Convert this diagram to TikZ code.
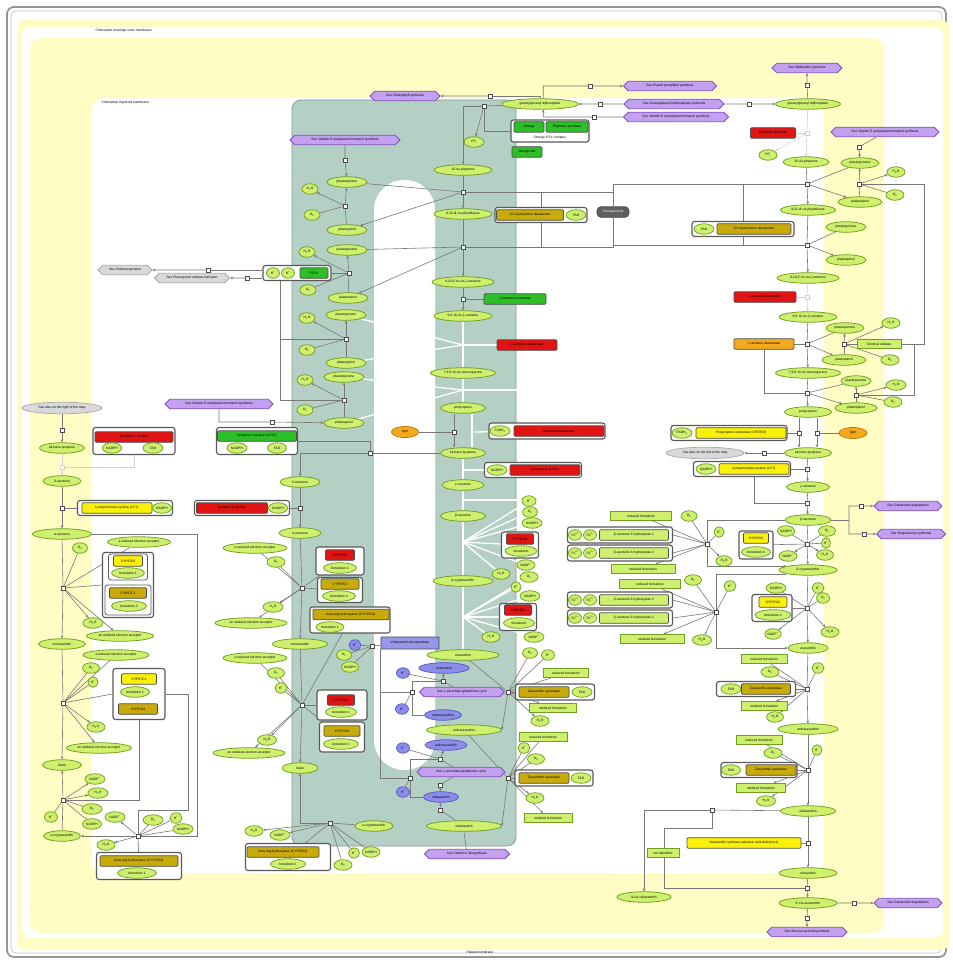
\documentclass[tikz,border=0pt]{standalone}
\usepackage{fontspec}
\setmainfont{Liberation Sans}
\usetikzlibrary{arrows.meta,shapes.geometric,shapes.symbols,positioning,calc}

\definecolor{framegray}{RGB}{150,150,150}
\definecolor{bgyellow}{RGB}{255,252,196}
\definecolor{thylakoid}{RGB}{180,207,196}
\definecolor{chemfill}{RGB}{206,240,110}
\definecolor{chemline}{RGB}{110,160,30}
\definecolor{seefill}{RGB}{196,160,240}
\definecolor{seeline}{RGB}{130,80,190}
\definecolor{bluefill}{RGB}{140,140,235}
\definecolor{blueline}{RGB}{90,90,190}
\definecolor{vdefill}{RGB}{150,150,235}
\definecolor{enzred}{RGB}{225,20,20}
\definecolor{enzgreen}{RGB}{45,190,40}
\definecolor{enzyellow}{RGB}{250,240,10}
\definecolor{enzolive}{RGB}{200,170,10}
\definecolor{enzorange}{RGB}{245,170,30}
\definecolor{orangeline}{RGB}{190,120,10}
\definecolor{darkbox}{RGB}{95,95,95}
\definecolor{linegray}{RGB}{120,120,120}

\pgfdeclarelayer{back}
\pgfdeclarelayer{lines}
\pgfsetlayers{back,lines,main}

\newcommand{\mapfont}{\fontsize{3.3}{3.8}\selectfont}
\newcommand{\wat}{H\textsubscript{2}O}
\newcommand{\oxy}{O\textsubscript{2}}
\newcommand{\hpl}{H\textsuperscript{+}}
\newcommand{\nadpp}{NADP\textsuperscript{+}}
\newcommand{\fetwo}{Fe\textsuperscript{2+}}

\begin{document}
\begin{tikzpicture}[x=1pt, y=-1pt,
    >={Stealth[length=3pt,width=2.6pt]},
    every node/.style={font=\mapfont},
    chem/.style={ellipse, draw=chemline, fill=chemfill, line width=0.75pt, inner sep=0.3pt, minimum height=10.5pt, minimum width=#1},
    chem/.default=18,
    lumen/.style={ellipse, draw=blueline, fill=bluefill, line width=0.75pt, inner sep=0.3pt, minimum height=10.5pt, minimum width=#1},
    lumen/.default=14,
    lightsrc/.style={ellipse, draw=orangeline, fill=enzorange, line width=0.75pt, inner sep=0.3pt, minimum height=11pt, minimum width=#1},
    lightsrc/.default=26,
    offmap/.style={ellipse, draw=gray!65, fill=gray!30, line width=0.75pt, inner sep=0.3pt, minimum height=11.5pt, minimum width=#1},
    enz/.style={rectangle, rounded corners=1.2pt, draw=black!70, line width=0.75pt, inner sep=0.5pt, minimum height=10.5pt, minimum width=#1},
    gene/.style={rectangle, draw=chemline, fill=chemfill, line width=0.75pt, inner sep=0.5pt, minimum height=9pt, minimum width=#1},
    cplx/.style={rectangle, rounded corners=2.5pt, draw=gray!70!black, line width=1.1pt, fill=white, inner sep=0pt},
    see/.style={signal, signal to=east and west, draw=seeline, fill=seefill, line width=0.75pt, inner sep=0.8pt, minimum height=9.5pt, minimum width=#1},
    proc/.style={rectangle, draw=gray!60!black, fill=white, line width=0.5pt, minimum size=4pt, inner sep=0pt},
    link/.style={draw=linegray, line width=0.6pt},
    wlink/.style={draw=white, line width=1.3pt},
    faint/.style={draw=gray!35, line width=0.6pt},
]
\useasboundingbox (0,0) rectangle (952,960);

% Compartments
\begin{pgfonlayer}{back}
  \fill[white] (0,0) rectangle (952,960);
  \draw[framegray, line width=1.8pt, rounded corners=7] (7,7) rectangle (946,957);
  \draw[framegray!60, line width=0.6pt, rounded corners=5] (11,11) rectangle (942,953);
  \fill[bgyellow, rounded corners=8] (17,20) rectangle (949,950);
  \fill[white, rounded corners=8] (22,27) rectangle (943,938);
  \fill[bgyellow, rounded corners=11] (30,38) rectangle (884,933);
  \fill[white, rounded corners=11] (92,98) rectangle (824,873);
  \draw[thylakoid!75!black, line width=0.8pt, fill=thylakoid, rounded corners=9] (292,100) rectangle (516,846);
  \fill[white, rounded corners=30] (374,180) rectangle (435,770);
\end{pgfonlayer}
\node[anchor=west] (envlab) at (92,31) {Chloroplast envelope outer membrane};
\node[anchor=west] (thylab) at (98,103) {Chloroplast thylakoid membrane};
\node (pmlab) at (480,952) {Plastid membrane};

% GGPP and phytoene synthase (centre)
\node[see=70] (chlsyn) at (405,96) {See Chlorophyll synthesis};
\node[proc] (r1) at (490,96) {};
\node[chem=77] (ggppA) at (540,104) {geranylgeranyl diphosphate};
\node[proc] (r2) at (484,106) {};
\node[chem=20] (ppiA) at (474,142) {PP\textsubscript{i}};
\node[cplx, minimum width=78, minimum height=22] (psyC) at (550,131) {};
\node[enz=30, fill=enzgreen] (orng) at (529,127) {Orange};
\node[enz=42, fill=enzgreen] (psyA) at (567,127) {Phytoene synthase};
\node (psyT) at (550,137.5) {Orange-PSY complex};
\node[enz=30, fill=enzgreen] (orlike) at (527,152) {Orange like};
\node[proc] (r3) at (600,104) {};
\node[proc] (r4) at (590,86) {};
\node[proc] (r5) at (594,117) {};
\node[see=93] (prenyl) at (670,86) {See Plastid prenyllipid synthesis};
\node[see=100] (ggsyn) at (674,104) {See Geranylgeranyl diphosphate synthesis};
\node[see=105] (vite2) at (676,117) {See Vitamin E and plastochromanol synthesis};

% Desaturation chain in the thylakoid
\node[chem=58] (phytA) at (463,170) {15-cis-phytoene};
\node[proc] (pC1) at (463,192) {};
\node[chem=58] (zA1) at (463,214) {9,15-di-cis-phytofluene};
\node[cplx, minimum width=92, minimum height=15] (pdsC) at (541,215) {};
\node[enz=67, fill=enzolive] (pdsA) at (530,215) {15-cis-phytoene desaturase};
\node[chem=20] (fadA) at (576,215) {FAD};
\node[enz=32, fill=darkbox, text=white, rounded corners=4pt] (pqbox) at (613,212) {Plastoquinone};
\node[proc] (pC2) at (463,247) {};
\node[chem=62] (zA2) at (463,282) {9,15,9'-tri-cis-ζ-carotene};
\node[proc] (pC3) at (463,299) {};
\node[enz=62, fill=enzgreen] (ziso) at (515,299) {ζ-carotene isomerase};
\node[chem=58] (zA3) at (463,316) {9,9'-di-cis-ζ-carotene};
\coordinate (pC4) at (463,345);
\node[enz=60, fill=enzred] (zdsA) at (527,345) {ζ-carotene desaturase};
\node[chem=65] (zA4) at (463,373) {7,9,9'-tri-cis-neurosporene};
\coordinate (pC5) at (463,390);
\node[chem=45] (prolyA) at (463,408) {prolycopene};
\node[lightsrc=27] (lightA) at (405,432) {light};
\node[proc] (pC6) at (454,432) {};
\coordinate (pC7) at (472,432);
\node[cplx, minimum width=116, minimum height=16] (crtC) at (547,431) {};
\node[chem=20] (fadhA) at (500,431) {FADH\textsubscript{2}};
\node[enz=90, fill=enzred] (crtA) at (559,431) {carotenoid isomerase};
\node[chem=45] (lycA) at (463,453) {all-trans-lycopene};
\node[cplx, minimum width=97, minimum height=15] (lcybC) at (533,470) {};
\node[chem=20] (nadphA) at (497,470) {NADPH};
\node[enz=70, fill=enzred] (lcybA) at (545,470) {lycopene β-cyclase};
\coordinate (pC8) at (463,470);
\node[chem=42] (gamA) at (463,485) {γ-carotene};
\coordinate (pC9) at (463,500);
\node[chem=45] (betA) at (463,516) {β-carotene};
\coordinate (pC10) at (463,542);
\node[chem=14] (hA1) at (529,501) {\hpl};
\node[chem=15] (oA1) at (530,512) {\oxy};
\node[chem=20] (nA1) at (532,523) {NADPH};
\node[cplx, minimum width=37, minimum height=26] (cypC1) at (520,545) {};
\node[enz=27, fill=enzred] (cypA1) at (520,539) {CYP97A3};
\node[chem=32] (fdA1) at (521,551) {ferredoxin};
\node[chem=18] (npA1) at (526,565) {\nadpp};
\node[chem=18] (wA1) at (501,574) {\wat};
\node[chem=60] (bcrA) at (463,581) {β-cryptoxanthin};
\node[chem=18] (oA2) at (529,577) {\oxy};
\node[chem=10] (hA2) at (516,587) {\hpl};
\node[chem=20] (nA2) at (530,596) {NADPH};
\node[cplx, minimum width=37, minimum height=27] (cypC2) at (518,617) {};
\node[enz=27, fill=enzred] (cypA2) at (518,610) {CYP97C1};
\node[chem=31] (fdA2) at (519,623) {ferredoxin};
\coordinate (pC11) at (463,617);
\node[chem=18] (wA2) at (491,637) {\wat};
\node[chem=20] (npA2) at (534,637) {\nadpp};
\node[chem=72] (zeaA) at (463,655) {zeaxanthin};

% Xanthophyll cycle
\node[enz=58, fill=vdefill, rounded corners=0.5pt, minimum height=12pt] (vdeA) at (410,643) {Violaxanthin de-epoxidase};
\node[lumen=12] (hV) at (355,645) {\hpl};
\node[chem=15] (oV) at (344,655) {\oxy};
\node[chem=17] (nV) at (350,667) {NADPH};
\node[proc] (pV) at (372,646) {};
\node[lumen=50] (zeaL) at (444,668) {zeaxanthin};
\node[lumen=13] (hL1) at (403,673) {\hpl};
\node[proc] (pL1) at (443,681) {};
\node[see=85] (ascA) at (462,692) {See L-ascorbate-glutathione cycle};
\node[proc] (pL0) at (412,692) {};
\node[lumen=13] (hL2) at (402,709) {\hpl};
\node[lumen=37] (antL) at (443,715) {antheraxanthin};
\node[chem=75] (antA) at (464,730) {antheraxanthin};
\node[lumen=42] (antL2) at (446,745) {antheraxanthin};
\node[lumen=13] (hL3) at (403,748) {\hpl};
\node[proc] (pL2) at (440,759) {};
\node[see=88] (ascB) at (461,772) {See L-ascorbate-glutathione cycle};
\node[proc] (pL3) at (410,778) {};
\node[proc] (pL4) at (440,785) {};
\node[lumen=13] (hL4) at (403,792) {\hpl};
\node[lumen=35] (violL) at (441,797) {violaxanthin};
\node[proc] (pL5) at (440,810) {};
\node[chem=75] (violA) at (464,826) {violaxanthin};
\node[see=85] (vitc) at (467,854) {See Vitamin C biosynthesis};
\node[proc] (pZ1) at (508,692) {};
\node[chem=15] (oZ1) at (530,653) {\oxy};
\node[chem=13] (hZ1) at (548,655) {\hpl};
\node[gene=45] (rfdZ1) at (566,673) {reduced ferredoxin};
\node[cplx, minimum width=79, minimum height=16] (zepC1) at (555,692) {};
\node[enz=50, fill=enzolive] (zepA1) at (544,692) {Zeaxanthin epoxidase};
\node[chem=20] (fadZ1) at (582,692) {FAD};
\node[gene=47] (ofdZ1) at (553,708) {oxidized ferredoxin};
\node[chem=18] (wZ1) at (540,721) {\wat};
\node[proc] (pZ2) at (508,778) {};
\node[gene=48] (rfdZ2) at (543,737) {reduced ferredoxin};
\node[chem=12] (hZ2) at (524,748) {\hpl};
\node[chem=17] (oZ2) at (536,759) {\oxy};
\node[cplx, minimum width=78, minimum height=16] (zepC2) at (554,778) {};
\node[enz=50, fill=enzolive] (zepA2) at (544,778) {Zeaxanthin epoxidase};
\node[chem=20] (fadZ2) at (581,778) {FAD};
\node[chem=18] (wZ2) at (535,798) {\wat};
\node[gene=48] (ofdZ2) at (548,818) {oxidized ferredoxin};

% Plastoquinone stack (thylakoid, left)
\node[see=110] (vite1) at (345,140) {See Vitamin E and plastochromanol synthesis};
\node[proc] (qa) at (345,160) {};
\node[chem=40] (pqa) at (347,182) {plastoquinone};
\node[chem=16] (wA) at (310,189) {\wat};
\node[proc] (qb) at (345,206) {};
\node[chem=16] (oA) at (312,215) {\oxy};
\node[chem=40] (pqb) at (347,230) {plastoquinol};
\node[chem=40] (pqc) at (347,250) {plastoquinone};
\node[chem=16] (wB) at (307,252) {\wat};
\node[proc] (qc) at (349,273) {};
\node[chem=16] (oB) at (308,290) {\oxy};
\node[chem=40] (pqd) at (348,298) {plastoquinol};
\node[chem=40] (pqe) at (346,315) {plastoquinone};
\node[chem=16] (wC) at (307,318) {\wat};
\node[proc] (qd) at (346,339) {};
\node[chem=16] (oC) at (307,350) {\oxy};
\node[chem=40] (pqf) at (346,363) {plastoquinol};
\node[chem=40] (pqg) at (344,377) {plastoquinone};
\node[chem=16] (wD) at (305,380) {\wat};
\node[proc] (qe) at (344,400) {};
\node[chem=16] (oD) at (305,410) {\oxy};
\node[chem=40] (pqh) at (344,423) {plastoquinol};
\node[cplx, minimum width=68, minimum height=15] (ptoxC) at (297,273) {};
\node[chem=13] (hp1) at (273,273) {\hpl};
\node[chem=13] (hp2) at (288,273) {\hpl};
\node[enz=28, fill=enzgreen] (ptox) at (314,273) {PTOX};
\coordinate (pk1) at (280,281);
\node[see=54, draw=gray!65, fill=gray!30] (chlr) at (125,270) {See Chlororespiration};
\node[see=75, draw=gray!65, fill=gray!30] (ptoxt) at (192,278) {See Plastoquinol oxidase transport};
\node[proc] (q6) at (208,270) {};
\node[proc] (q7) at (247,278) {};
\node[see=108] (vitk) at (219,404) {See Vitamin E and plastochromanol synthesis};
\node[proc] (qf) at (272,422) {};

% Alpha branch in the thylakoid
\node[cplx, minimum width=81, minimum height=27] (lcyeC) at (257,441) {};
\node[enz=79, fill=enzgreen] (lcyeA) at (257,436) {lycopene ε-cyclase (LCYE)};
\node[chem=20] (nadphE) at (237,448) {NADPH};
\node[chem=19] (fadE) at (277,448) {FAD};
\node[proc] (pT1) at (370,453) {};
\node[chem=40] (delT) at (300,482) {δ-carotene};
\node[proc] (pT2) at (300,508) {};
\node[cplx, minimum width=95, minimum height=15] (lcybC2) at (242,508) {};
\node[enz=71, fill=enzred] (lcybB) at (232,508) {lycopene β-cyclase};
\node[chem=19] (nadphB) at (278,508) {NADPH};
\node[chem=42] (alpT) at (300,533) {α-carotene};
\node[proc] (pT3) at (302,588) {};
\node[chem=64] (redT1) at (255,548) {a reduced electron acceptor};
\node[chem=18] (oT1) at (276,562) {\oxy};
\node[chem=20] (wT1) at (273,607) {\wat};
\node[chem=72] (oxT1) at (251,623) {an oxidized electron acceptor};
\node[cplx, minimum width=48, minimum height=28] (cypTC1) at (340,561) {};
\node[enz=29, fill=enzred] (cypT1) at (340,555) {CYP97A3};
\node[chem=33] (fdT1) at (340,568) {ferredoxin 1};
\node[cplx, minimum width=45, minimum height=25] (cypTC2) at (340,590) {};
\node[enz=38, fill=enzolive] (cypT2) at (340,584) {CYP97C1};
\node[chem=33] (fdT2) at (339,596) {ferredoxin 4};
\node[cplx, minimum width=80, minimum height=26] (bchC) at (350,620) {};
\node[enz=76, fill=enzolive] (bchT) at (351,614.5) {beta-ring hydroxylase (CYP97A3)};
\node[chem=28] (fdT3) at (330,627) {ferredoxin 1};
\node[chem=55] (zeiT) at (300,644) {zeinoxanthin};
\node[proc] (pT4) at (302,705) {};
\node[chem=64] (redT2) at (255,658) {a reduced electron acceptor};
\node[chem=17] (oT2) at (276,673) {\oxy};
\node[chem=12] (hT2) at (281,688) {\hpl};
\node[cplx, minimum width=50, minimum height=30] (cypTC3) at (342,705) {};
\node[enz=27, fill=enzred] (cypT3) at (341,700) {CYP97C1};
\node[chem=31] (fdT5) at (341,712) {ferredoxin 1};
\node[cplx, minimum width=45, minimum height=30] (cypTC4) at (342,737) {};
\node[enz=36, fill=enzolive] (cypT4) at (342,731) {CYP97A3};
\node[chem=35] (fdT6) at (341,744) {ferredoxin 1};
\node[chem=19] (wT2) at (267,740) {\wat};
\node[chem=72] (oxT2) at (249,753) {an oxidized electron acceptor};
\node[chem=36] (lutT) at (300,768) {lutein};
\node[proc] (pT5) at (330,823) {};
\node[chem=38] (acrT) at (374,826) {α-cryptoxanthin};
\node[chem=18] (wT3) at (254,831) {\wat};
\node[chem=20] (npT3) at (280,835) {\nadpp};
\node[chem=11] (hT3) at (354,853) {\hpl};
\node[chem=18] (nT3) at (371,852) {NADPH};
\node[chem=18] (oT3) at (343,865) {\oxy};
\node[cplx, minimum width=85, minimum height=27] (bchC2) at (288,857) {};
\node[enz=72, fill=enzolive] (bchT2) at (283,852) {beta-ring hydroxylase (CYP97A3)};
\node[chem=35] (fdT4) at (288,864) {ferredoxin 1};

% Alpha branch in the envelope (left column)
\node[offmap=80] (seeleft) at (62,408) {See also on the right of the map};
\node[proc] (pE1) at (62,430) {};
\node[chem=45] (lycE) at (62,448) {all-trans-lycopene};
\node[cplx, minimum width=82, minimum height=27] (lcyeC2) at (134,441) {};
\node[enz=78, fill=enzred] (lcyeB) at (134,437) {lycopene ε-cyclase};
\node[chem=19] (nadphE2) at (112,448) {NADPH};
\node[chem=20] (fadE2) at (153,448) {FAD};
\node[proc, draw=gray!35] (pE2) at (62,467) {};
\node[chem=38] (delE) at (62,481) {δ-carotene};
\node[proc] (pE3) at (62,508) {};
\node[cplx, minimum width=95, minimum height=15] (lcybEC) at (125,508) {};
\node[enz=70, fill=enzyellow] (lcybE) at (117,508) {Lycopene beta-cyclase (LCY)};
\node[chem=19] (nadphE3) at (162,508) {NADPH};
\node[chem=59] (alpE) at (62,534) {α-carotene};
\coordinate (ak2) at (197,836);
\node[proc] (pE4) at (63,588) {};
\node[chem=15] (oE1) at (80,548) {\oxy};
\node[chem=63] (redE1) at (139,542) {a reduced electron acceptor};
\node[cplx, minimum width=51, minimum height=65] (cypEC) at (128,585) {};
\node[cplx, minimum width=39, minimum height=26, line width=0.8pt] (cypEC1) at (128,567) {};
\node[enz=29, fill=enzyellow] (cypE1) at (128,561) {CYP97A3};
\node[chem=33] (fdE1) at (128,573) {ferredoxin 1};
\node[cplx, minimum width=46, minimum height=30, line width=0.8pt] (cypEC2) at (128,600) {};
\node[enz=37, fill=enzolive] (cypE2) at (128,593) {CYP97C1};
\node[chem=35] (fdE2) at (129,606) {ferredoxin 4};
\node[chem=20] (wE1) at (93,623) {\wat};
\node[chem=67] (oxE1) at (120,636) {an oxidized electron acceptor};
\node[chem=47] (zeiE) at (62,644) {zeinoxanthin};
\node[chem=66] (redE2) at (116,655) {a reduced electron acceptor};
\node[chem=17] (oE2) at (91,668) {\oxy};
\node[chem=10] (hE2) at (93,682) {\hpl};
\node[proc] (pE5) at (63,703) {};
\node[cplx, minimum width=52, minimum height=51] (cypEC3) at (139,694) {};
\node[enz=35, fill=enzyellow] (cypE3) at (139,679) {CYP97C1};
\node[chem=29] (fdE3) at (135,692) {ferredoxin 1};
\node[enz=39, fill=enzolive] (cypE4) at (138,709) {CYP97A3};
\coordinate (ck) at (188,810);
\node[chem=18] (wE2) at (96,727) {\wat};
\node[chem=65] (oxE2) at (99,748) {an oxidized electron acceptor};
\node[chem=39] (lutE) at (62,765) {lutein};
\node[proc] (pE6) at (63,800) {};
\node[chem=20] (npE3) at (95,779) {\nadpp};
\node[chem=20] (wE3) at (98,793) {\wat};
\node[chem=20] (oE3) at (92,809) {\oxy};
\node[chem=19] (nE3) at (92,824) {NADPH};
\node[chem=13] (hE3) at (51,817) {\hpl};
\node[chem=37] (acrE) at (62,836) {α-cryptoxanthin};
\node[proc] (pE7) at (138,836) {};
\node[chem=20] (nE4) at (115,817) {\nadpp};
\node[chem=18] (wE4) at (106,845) {\wat};
\node[chem=20] (oE4) at (153,820) {\oxy};
\node[chem=12] (hE4) at (176,818) {\hpl};
\node[chem=20] (nE5) at (183,829) {NADPH};
\node[cplx, minimum width=85, minimum height=27] (bchEC) at (139,866) {};
\node[enz=78, fill=enzolive] (bchE) at (139,861) {beta-ring hydroxylase (CYP97A3)};
\node[chem=39] (fdE4) at (137,873) {ferredoxin 1};

% Envelope chain (right column)
\node[proc] (r6) at (749,104) {};
\node[chem=65] (ggppB) at (808,104) {geranylgeranyl diphosphate};
\node[see=70] (gasyn) at (807,68) {See Gibberellin synthesis};
\node[proc] (r7) at (807,85) {};
\node[enz=45, fill=enzred] (psyB) at (773,133) {Phytoene synthase};
\node[proc, draw=gray!35] (r8) at (807,133) {};
\node[chem=18] (ppiB) at (768,155) {PP\textsubscript{i}};
\node[chem=46] (phytB) at (806,162) {15-cis-phytoene};
\node[see=108] (vite3) at (885,132) {See Vitamin E and plastochromanol synthesis};
\node[proc] (r9) at (859,147) {};
\node[chem=38] (pqB1) at (860,163) {plastoquinone};
\node[proc] (r10) at (859,184) {};
\coordinate (ok1) at (924,184);
\node[chem=18] (wB1) at (896,172) {\wat};
\node[chem=18] (oB1) at (895,195) {\oxy};
\node[chem=44] (pqB2) at (860,202) {plastoquinol};
\node[proc] (r11) at (807,184) {};
\node[chem=55] (zB1) at (808,210) {9,15-di-cis-phytofluene};
\node[chem=40] (pqB3) at (846,227) {plastoquinone};
\node[cplx, minimum width=102, minimum height=15] (pdsC2) at (743,229) {};
\node[chem=20] (fadB1) at (704,229) {FAD};
\node[enz=74, fill=enzolive] (pdsB) at (754,229) {15-cis-phytoene desaturase};
\node[proc] (r12) at (807,245) {};
\node[chem=40] (pqB4) at (846,260) {plastoquinol};
\node[chem=62] (zB2) at (808,278) {9,15,9'-tri-cis-ζ-carotene};
\node[enz=62, fill=enzred] (zisoB) at (765,297) {ζ-carotene isomerase};
\node[proc, draw=gray!35] (r13) at (807,297) {};
\node[chem=58] (zB3) at (808,317) {9,9'-di-cis-ζ-carotene};
\node[proc] (r14) at (807,344) {};
\node[enz=60, fill=enzorange] (zdsB) at (764,344) {ζ-carotene desaturase};
\node[chem=38] (pqB5) at (845,328) {plastoquinone};
\node[proc] (r15) at (844,344) {};
\node[chem=44] (pqB6) at (844,360) {plastoquinol};
\node[chem=18] (wB2) at (891,323) {\wat};
\node[gene=44] (toxB) at (879,344) {Terminal oxidase};
\node[chem=18] (oB2) at (890,360) {\oxy};
\node[chem=65] (zB4) at (808,373) {7,9,9'-tri-cis-neurosporene};
\node[proc] (r16) at (807,393) {};
\node[chem=30] (pqB7) at (856,381) {plastoquinone};
\node[proc] (r17) at (856,395) {};
\coordinate (ok2) at (914,395);
\node[chem=42] (pqB8) at (856,408) {plastoquinol};
\node[chem=20] (wB3) at (896,385) {\wat};
\node[chem=18] (oB3) at (893,402) {\oxy};
\node[chem=47] (prolyB) at (808,412) {prolycopene};
\node[proc] (r18) at (799,433) {};
\node[proc] (r19) at (817,433) {};
\node[cplx, minimum width=116, minimum height=15] (crtC2) at (729,433) {};
\node[chem=20] (fadhB) at (682,433) {FADH\textsubscript{2}};
\node[enz=90, fill=enzyellow] (crtB) at (741,433) {Prolycopene isomerase (CRTISO)};
\node[lightsrc=28] (lightB) at (853,433) {light};
\node[chem=47] (lycB) at (808,453) {all-trans-lycopene};
\node[proc] (r20) at (764,453) {};
\node[offmap=78] (seeright) at (705,453) {See also on the left of the map};
\node[cplx, minimum width=97, minimum height=15] (lcybBC) at (742,469) {};
\node[chem=20] (nadphB2) at (706,469) {NADPH};
\node[enz=70, fill=enzyellow] (lcybB2) at (754,469) {Lycopene beta-cyclase (LCY)};
\node[proc] (r21) at (807,469) {};
\node[chem=43] (gamB) at (808,487) {γ-carotene};
\node[proc] (r22) at (807,503) {};
\node[chem=46] (betB) at (808,520) {β-carotene};
\coordinate (bk) at (849,520);
\node[proc] (r23) at (861,506) {};
\node[proc] (r24) at (864,534) {};
\node[see=68] (cardeg) at (908,506) {See Carotenoid degradation};
\node[see=69] (strig) at (911,534) {See Strigolactone synthesis};
\node[proc] (r25) at (807,544) {};
\node[chem=17] (nB4) at (786,531) {NADPH};
\node[chem=17] (oB4) at (827,531) {\oxy};
\node[chem=9] (hB4) at (826,543) {\hpl};
\node[chem=18] (npB4) at (788,556) {\nadpp};
\node[chem=17] (wB4) at (825,555) {\wat};
\node[cplx, minimum width=34, minimum height=28] (cypBC1) at (756,545) {};
\node[enz=25, fill=enzyellow] (cypB1) at (756,538) {CYP97A3};
\node[chem=29] (fdB1) at (756,552) {ferredoxin 4};
\node[chem=58] (bcrB) at (808,570) {β-cryptoxanthin};
\node[proc] (r26) at (707,544) {};
\node[gene=61] (rfdB1) at (641,516) {reduced ferredoxin};
\node[chem=16] (oB5) at (689,516) {\oxy};
\node[chem=10] (hB5) at (719,532) {\hpl};
\node[cplx, minimum width=105, minimum height=16] (bchBC1) at (620,535) {};
\node[chem=13] (feB1) at (575,535) {\fetwo};
\node[chem=13] (feB2) at (590,535) {\fetwo};
\node[enz=69, fill=chemfill] (bchB1) at (634,535) {β-carotene 3-hydroxylase 1};
\node[cplx, minimum width=105, minimum height=16] (bchBC2) at (620,553) {};
\node[chem=13] (feB3) at (575,553) {\fetwo};
\node[chem=13] (feB4) at (590,553) {\fetwo};
\node[enz=69, fill=chemfill] (bchB2) at (634,553) {β-carotene 3-hydroxylase 2};
\node[chem=16] (wB5) at (724,561) {\wat};
\node[gene=64] (ofdB1) at (643,569) {oxidized ferredoxin};
\node[proc] (r27) at (716,612) {};
\node[gene=61] (rfdB2) at (650,584) {reduced ferredoxin};
\node[chem=17] (oB6) at (693,580) {\oxy};
\node[chem=12] (hB6) at (730,586) {\hpl};
\node[cplx, minimum width=105, minimum height=16] (bchBC3) at (620,600) {};
\node[chem=13] (feB5) at (575,600) {\fetwo};
\node[chem=13] (feB6) at (590,600) {\fetwo};
\node[enz=69, fill=chemfill] (bchB3) at (634,600) {β-carotene 3-hydroxylase 1};
\node[cplx, minimum width=105, minimum height=16] (bchBC4) at (620,618) {};
\node[chem=13] (feB7) at (575,618) {\fetwo};
\node[chem=13] (feB8) at (590,618) {\fetwo};
\node[enz=69, fill=chemfill] (bchB4) at (634,618) {β-carotene 3-hydroxylase 2};
\node[gene=64] (ofdB2) at (652,639) {oxidized ferredoxin};
\node[chem=19] (wB6) at (702,640) {\wat};
\node[proc] (r28) at (807,608) {};
\node[chem=20] (nB7) at (776,588) {NADPH};
\node[chem=12] (hB7) at (818,588) {\hpl};
\node[chem=13] (oB7) at (823,598) {\oxy};
\node[cplx, minimum width=40, minimum height=27] (cypBC2) at (772,608) {};
\node[enz=28, fill=enzyellow] (cypB2) at (773,602) {CYP97A3};
\node[chem=36] (fdB2) at (773,615) {ferredoxin 4};
\node[chem=15] (npB7) at (773,634) {\nadpp};
\node[chem=18] (wB7) at (830,632) {\wat};
\node[chem=40] (zeaB) at (808,648) {zeaxanthin};
\node[proc] (r29) at (807,689) {};
\node[gene=46] (rfdB3) at (764,659) {reduced ferredoxin};
\node[chem=18] (oB8) at (770,672) {\oxy};
\node[chem=12] (hB8) at (818,668) {\hpl};
\node[cplx, minimum width=79, minimum height=15] (zepBC1) at (756,689) {};
\node[chem=20] (fadB2) at (731,689) {FAD};
\node[enz=49, fill=enzolive] (zepB1) at (766,689) {Zeaxanthin epoxidase};
\node[gene=46] (ofdB3) at (764,706) {oxidized ferredoxin};
\node[chem=17] (wB8) at (775,717) {\wat};
\node[chem=60] (antB) at (808,729) {antheraxanthin};
\node[proc] (r30) at (808,770) {};
\node[gene=46] (rfdB4) at (759,740) {reduced ferredoxin};
\node[chem=18] (oB9) at (773,753) {\oxy};
\node[chem=10] (hB9) at (817,750) {\hpl};
\node[cplx, minimum width=76, minimum height=15] (zepBC2) at (759,770) {};
\node[chem=19] (fadB3) at (731,770) {FAD};
\node[enz=50, fill=enzolive] (zepB2) at (771,770) {Zeaxanthin epoxidase};
\node[gene=49] (ofdB4) at (761,788) {oxidized ferredoxin};
\node[chem=19] (wB9) at (766,801) {\wat};
\node[chem=55] (violB) at (808,811) {violaxanthin};
\node[proc] (r31) at (712,810) {};
\coordinate (nk1) at (664,828);
\node[gene=32] (nident) at (663,853) {not identified};
\node[chem=54] (cisviol) at (644,897) {9-cis-violaxanthin};
\node[enz=114, fill=enzyellow] (nsy) at (744,843) {Neoxanthin synthase (abscisic acid-deficient 4)};
\node[proc] (r32) at (808,843) {};
\node[chem=58] (neoB) at (808,873) {neoxanthin};
\node[proc] (r33) at (807,888) {};
\node[chem=58] (cisneo) at (808,903) {9'-cis-neoxanthin};
\node[proc] (r34) at (854,903) {};
\node[see=68] (cardeg2) at (908,903) {See Carotenoid degradation};
\node[proc] (r35) at (807,918) {};
\node[see=80] (abasyn) at (807,932) {See Abscisic acid biosynthesis};

\begin{pgfonlayer}{lines}
  % GGPP and phytoene
  \draw[link,->] (r1) -- (chlsyn);
  \draw[link] (ggppA.north) |- (r1);
  \draw[link] (ggppA) -- (r2);
  \draw[link,->] (r2) -- (ppiA);
  \draw[link,->] (r2) -| (phytA);
  \draw[link] (r2) |- (psyC.west);
  \draw[link,->] (ggsyn) -- (r3) -- (ggppA);
  \draw[link,->] (ggppA.60) |- (r4) -- (prenyl);
  \draw[link,->] (vite2) -- (r5) -| (ggppA.-60);
  % desaturation in the thylakoid
  \draw[link] (phytA) -- (pC1);
  \draw[link,->] (pC1) -- (zA1);
  \draw[link] (zA1) -- (pC2);
  \draw[link,->] (pC2) -- (zA2);
  \draw[link] (zA2) -- (pC3);
  \draw[link,->] (pC3) -- (zA3);
  \draw[link] (ziso) -- (pC3);
  \draw[link] (pdsC.north) -- (pdsC.north |- pC1);
  \draw[link] (pdsC.south) -- (pdsC.south |- pC2);
  \draw[link] (pC1) -| (pqbox.north);
  \draw[link] (pC2) -| (pqbox.south);
  \draw[link] (pqa) -- (pC1);
  \draw[link,->] (pC1) -- (pqb);
  \draw[link] (pqc) -- (pC2);
  \draw[link,->] (pC2) -- (pqd);
  \draw[wlink] (zA3) -- (pC4) -- (zA4) -- (pC5) -- (prolyA);
  \draw[wlink] (zdsA) -- (pC4);
  \draw[wlink] (zdsA) |- (pC5);
  \draw[wlink] (pqe) -- (pC4);
  \draw[wlink] (pC4) -- (pqf);
  \draw[wlink] (pqg) -- (pC5);
  \draw[wlink] (pC5) -- (pqh);
  \draw[link] (lightA) -- (pC6);
  \draw[link] (pC6 |- prolyA.south) -- (pC6);
  \draw[link,->] (pC6) -- (pC6 |- lycA.north);
  \draw[wlink] (pC7 |- prolyA.south) -- (pC7) -- (pC7 |- lycA.north);
  \draw[wlink] (crtC) -- (pC7);
  \draw[wlink] (lycA) -- (pC8) -- (gamA) -- (pC9) -- (betA) -- (pC10) -- (bcrA) -- (pC11) -- (zeaA);
  \draw[wlink] (lcybC) -- (pC8);
  \draw[wlink] (pC9) -| (lcybC.south);
  \draw[wlink] (hA1) -- (pC10);
  \draw[wlink] (oA1) -- (pC10);
  \draw[wlink] (nA1) -- (pC10);
  \draw[wlink] (cypC1) -- (pC10);
  \draw[wlink] (pC10) -- (npA1);
  \draw[wlink] (pC10) -- (wA1);
  \draw[wlink] (oA2) -- (pC11);
  \draw[wlink] (hA2) -- (pC11);
  \draw[wlink] (nA2) -- (pC11);
  \draw[wlink] (cypC2) -- (pC11);
  \draw[wlink] (pC11) -- (wA2);
  \draw[wlink] (pC11) -- (npA2);
  % xanthophyll cycle
  \draw[link] (zeaA) -- (pZ1);
  \draw[link,->] (pZ1) -- (antA.east);
  \draw[link] (oZ1) -- (pZ1);
  \draw[link] (hZ1) -- (pZ1);
  \draw[link] (rfdZ1) -- (pZ1);
  \draw[link,->] (pZ1) -- (ofdZ1);
  \draw[link,->] (pZ1) -- (wZ1);
  \draw[link] (zepC1) -- (pZ1);
  \draw[link] (antA) -- (pZ2);
  \draw[link,->] (pZ2) -- (violA.east);
  \draw[link] (rfdZ2) -- (pZ2);
  \draw[link] (hZ2) -- (pZ2);
  \draw[link] (oZ2) -- (pZ2);
  \draw[link,->] (pZ2) -- (wZ2);
  \draw[link,->] (pZ2) -- (ofdZ2);
  \draw[link] (zepC2) -- (pZ2);
  \draw[link] (hV) -- (pV);
  \draw[link] (oV) -- (pV);
  \draw[link] (nV) -- (pV);
  \draw[link] (pV) -- (vdeA);
  \draw[link,->] (pL1) -- (zeaL);
  \draw[link] (ascA) -- (pL1);
  \draw[link] (hL1) -- (pL1);
  \draw[link] (antL) -| (pL0);
  \draw[link] (pL0) |- (pL1);
  \draw[link] (hL2) -- (pL0);
  \draw[link] (vdeA.south west) |- (pL0);
  \draw[link] (vdeA.south west) |- (pL3);
  \draw[link,->] (pL2) -- (antL2);
  \draw[link] (ascB) -- (pL2);
  \draw[link] (hL3) -- (pL2);
  \draw[link] (violL) -| (pL3);
  \draw[link] (pL3) |- (pL2);
  \draw[link] (hL4) -- (pL3);
  \draw[link] (ascB) -- (pL4);
  \draw[link,->] (pL4) -- (violL);
  \draw[link] (violA) -- (pL5);
  \draw[link,->] (pL5) -- (violL);
  \draw[link] (violA.south) -- (vitc);
  % plastoquinone stack
  \draw[link,->] (vite1) -- (qa) -- (pqa);
  \draw[link] (pqb) -- (qb);
  \draw[link,->] (qb) -- (pqa);
  \draw[link,->] (qb) -- (wA);
  \draw[link] (oA) -- (qb);
  \draw[link] (pqd) -- (qc);
  \draw[link,->] (qc) -- (pqc);
  \draw[link,->] (qc) -- (wB);
  \draw[link] (oB) -- (qc);
  \draw[link] (ptoxC) -- (qc);
  \draw[link] (pqf) -- (qd);
  \draw[link,->] (qd) -- (pqe);
  \draw[link,->] (qd) -- (wC);
  \draw[link] (oC) -- (qd);
  \draw[link] (pqh) -- (qe);
  \draw[link,->] (qe) -- (pqg);
  \draw[link,->] (qe) -- (wD);
  \draw[link] (oD) -- (qe);
  \draw[link] (pk1) |- (qe);
  \draw[link] (pk1 |- qd) -- (qd);
  \draw[link,->] (q6) -- (chlr);
  \draw[link] (ptoxC.west |- q6) -- (q6);
  \draw[link,->] (q7) -- (ptoxt);
  \draw[link] (ptoxC.west |- q7) -- (q7);
  \draw[link,->] (vitk) |- (qf) -- (pqh);
  % alpha branch, thylakoid
  \draw[link] (lycA) -- (pT1);
  \draw[link,->] (pT1) -| (delT);
  \draw[link] (lcyeC.east) -| (pT1);
  \draw[link] (delT) -- (pT2);
  \draw[link,->] (pT2) -- (alpT);
  \draw[link] (lcybC2) -- (pT2);
  \draw[link] (alpT) -- (pT3);
  \draw[link,->] (pT3) -- (zeiT);
  \draw[link] (redT1) -- (pT3);
  \draw[link] (oT1) -- (pT3);
  \draw[link,->] (pT3) -- (wT1);
  \draw[link,->] (pT3) -- (oxT1);
  \draw[link] (cypTC1) -- (pT3);
  \draw[link] (cypTC2) -- (pT3);
  \draw[link] (zeiT) -- (pT4);
  \draw[link,->] (pT4) -- (lutT);
  \draw[link] (redT2) -- (pT4);
  \draw[link] (oT2) -- (pT4);
  \draw[link] (hT2) -- (pT4);
  \draw[link,->] (pT4) -- (wT2);
  \draw[link,->] (pT4) -- (oxT2);
  \draw[link] (cypTC3) -- (pT4);
  \draw[link] (cypTC4) -- (pT4);
  \draw[link] (bchC) -- (pT4);
  \draw[link] (acrT) -- (pT5);
  \draw[link,->] (pT5) -| (lutT);
  \draw[link,->] (pT5) -- (wT3);
  \draw[link,->] (pT5) -- (npT3);
  \draw[link] (hT3) -- (pT5);
  \draw[link] (nT3) -- (pT5);
  \draw[link] (oT3) -- (pT5);
  \draw[link] (bchC2) -- (pT5);
  % alpha branch, envelope
  \draw[link,->] (seeleft) -- (pE1) -- (lycE);
  \draw[faint] (lycE) -- (pE2);
  \draw[faint,->] (pE2) -- (delE);
  \draw[faint] (lcyeC2) |- (pE2);
  \draw[link] (delE) -- (pE3);
  \draw[link,->] (pE3) -- (alpE);
  \draw[link] (lcybEC) -- (pE3);
  \draw[link] (alpE) -- (pE4);
  \draw[link,->] (pE4) -- (zeiE);
  \draw[link] (oE1) -- (pE4);
  \draw[link] (redE1) -- (pE4);
  \draw[link,->] (pE4) -- (wE1);
  \draw[link,->] (pE4) -- (oxE1);
  \draw[link] (cypEC.west) -- (pE4);
  \draw[link] (alpE.east) -| (ak2) -- (pE7);
  \draw[link] (zeiE) -- (pE5);
  \draw[link,->] (pE5) -- (lutE);
  \draw[link] (redE2) -- (pE5);
  \draw[link] (oE2) -- (pE5);
  \draw[link] (hE2) -- (pE5);
  \draw[link,->] (pE5) -- (wE2);
  \draw[link,->] (pE5) -- (oxE2);
  \draw[link] (cypEC3.west) -- (pE5);
  \draw[link] (cypEC3.south) |- (pE6);
  \draw[link] (cypEC3.east) -| (ck) -| (pE7);
  \draw[link] (acrE) -- (pE6);
  \draw[link,->] (pE6) -- (lutE);
  \draw[link,->] (pE6) -- (npE3);
  \draw[link,->] (pE6) -- (wE3);
  \draw[link] (oE3) -- (pE6);
  \draw[link] (nE3) -- (pE6);
  \draw[link] (hE3) -- (pE6);
  \draw[link,->] (pE7) -- (acrE);
  \draw[link,->] (pE7) -- (nE4);
  \draw[link,->] (pE7) -- (wE4);
  \draw[link] (oE4) -- (pE7);
  \draw[link] (hE4) -- (pE7);
  \draw[link] (nE5) -- (pE7);
  \draw[link] (bchEC) -- (pE7);
  % envelope chain, right column
  \draw[link,->] (ggsyn) -- (r6) -- (ggppB);
  \draw[link,->] (ggppB) -- (r7) -- (gasyn);
  \draw[faint] (ggppB) -- (r8);
  \draw[faint,->] (r8) -- (phytB);
  \draw[faint] (psyB) -- (r8);
  \draw[faint,->] (r8) -- (ppiB);
  \draw[link,->] (vite3) -- (r9) -- (pqB1);
  \draw[link,->] (r10) -- (pqB1);
  \draw[link,->] (r10) -- (wB1);
  \draw[link] (oB1) -- (r10);
  \draw[link] (pqB2) -- (r10);
  \draw[link] (r10) -- (ok1) |- (toxB);
  \draw[link] (phytB) -- (r11);
  \draw[link] (pqB1) -- (r11);
  \draw[link,->] (r11) -- (zB1);
  \draw[link,->] (r11) -- (pqB2);
  \draw[link] (pqbox.north) |- (r11);
  \draw[link] (pdsC2) |- (r11);
  \draw[link] (zB1) -- (r12);
  \draw[link,->] (r12) -- (zB2);
  \draw[link] (pqB3) -- (r12);
  \draw[link,->] (r12) -- (pqB4);
  \draw[link] (pqbox.south) |- (r12);
  \draw[link] (pdsC2) |- (r12);
  \draw[faint] (zB2) -- (r13);
  \draw[faint,->] (r13) -- (zB3);
  \draw[faint] (zisoB) -- (r13);
  \draw[link] (zB3) -- (r14);
  \draw[link,->] (r14) -- (zB4);
  \draw[link] (zdsB) -- (r14);
  \draw[link] (pqB5) -- (r14);
  \draw[link,->] (r14) -- (pqB6);
  \draw[link] (pqB6) -- (r15);
  \draw[link,->] (r15) -- (pqB5);
  \draw[link] (toxB) -- (r15);
  \draw[link,->] (r15) -- (wB2);
  \draw[link] (oB2) -- (r15);
  \draw[link] (zB4) -- (r16);
  \draw[link,->] (r16) -- (prolyB);
  \draw[link] (zdsB) |- (r16);
  \draw[link] (pqB7) -- (r16);
  \draw[link,->] (r16) -- (pqB8);
  \draw[link] (pqB8) -- (r17);
  \draw[link,->] (r17) -- (pqB7);
  \draw[link,->] (r17) -- (wB3);
  \draw[link] (oB3) -- (r17);
  \draw[link] (toxB.east) -| (ok2) -- (r17);
  \draw[link] (r18 |- prolyB.south) -- (r18);
  \draw[link,->] (r18) -- (r18 |- lycB.north);
  \draw[link] (r19 |- prolyB.south) -- (r19);
  \draw[link,->] (r19) -- (r19 |- lycB.north);
  \draw[link] (crtC2) -- (r18);
  \draw[link] (lightB) -- (r19);
  \draw[link,->] (lycB) -- (r20) -- (seeright);
  \draw[link] (lycB) -- (r21);
  \draw[link,->] (r21) -- (gamB);
  \draw[link] (lcybBC) -- (r21);
  \draw[link] (gamB) -- (r22);
  \draw[link,->] (r22) -- (betB);
  \draw[link] (lcybB2.south) |- (r22);
  \draw[link] (betB) -- (bk);
  \draw[link,->] (bk) |- (r23) -- (cardeg);
  \draw[link,->] (bk) |- (r24) -- (strig);
  \draw[link] (betB) -- (r25);
  \draw[link,->] (r25) -- (bcrB);
  \draw[link] (nB4) -- (r25);
  \draw[link] (oB4) -- (r25);
  \draw[link] (hB4) -- (r25);
  \draw[link,->] (r25) -- (npB4);
  \draw[link,->] (r25) -- (wB4);
  \draw[link] (cypBC1) -- (r25);
  \draw[link] (betB.west) -| (r26);
  \draw[link,->] (r26) |- (bcrB.170);
  \draw[link] (rfdB1) -- (r26);
  \draw[link] (oB5) -- (r26);
  \draw[link] (hB5) -- (r26);
  \draw[link,->] (r26) -- (wB5);
  \draw[link,->] (r26) -- (ofdB1);
  \draw[link] (bchBC1.east) -- (r26);
  \draw[link] (bchBC2.east) -- (r26);
  \draw[link] (bcrB.190) -| (r27);
  \draw[link,->] (r27) |- (zeaB.west);
  \draw[link] (rfdB2) -- (r27);
  \draw[link] (oB6) -- (r27);
  \draw[link] (hB6) -- (r27);
  \draw[link,->] (r27) -- (wB6);
  \draw[link,->] (r27) -- (ofdB2);
  \draw[link] (bchBC3.east) -- (r27);
  \draw[link] (bchBC4.east) -- (r27);
  \draw[link] (bcrB) -- (r28);
  \draw[link,->] (r28) -- (zeaB);
  \draw[link] (nB7) -- (r28);
  \draw[link] (hB7) -- (r28);
  \draw[link] (oB7) -- (r28);
  \draw[link,->] (r28) -- (npB7);
  \draw[link,->] (r28) -- (wB7);
  \draw[link] (cypBC2) -- (r28);
  \draw[link] (zeaB) -- (r29);
  \draw[link,->] (r29) -- (antB);
  \draw[link] (rfdB3) -- (r29);
  \draw[link] (oB8) -- (r29);
  \draw[link] (hB8) -- (r29);
  \draw[link,->] (r29) -- (ofdB3);
  \draw[link,->] (r29) -- (wB8);
  \draw[link] (zepBC1) -- (r29);
  \draw[link] (antB) -- (r30);
  \draw[link,->] (r30) -- (violB);
  \draw[link] (rfdB4) -- (r30);
  \draw[link] (oB9) -- (r30);
  \draw[link] (hB9) -- (r30);
  \draw[link,->] (r30) -- (ofdB4);
  \draw[link,->] (r30) -- (wB9);
  \draw[link] (zepBC2) -- (r30);
  \draw[link] (violB) -- (r31);
  \draw[link,->] (r31) -| (cisviol);
  \draw[link] (r31) |- (nk1) |- (r33);
  \draw[link] (violB) -- (r32);
  \draw[link,->] (r32) -- (neoB);
  \draw[link] (nsy) -- (r32);
  \draw[link] (neoB) -- (r33);
  \draw[link,->] (r33) -- (cisneo);
  \draw[link,->] (cisneo) -- (r34) -- (cardeg2);
  \draw[link,->] (cisneo) -- (r35) -- (abasyn);
\end{pgfonlayer}
\end{tikzpicture}
\end{document}
